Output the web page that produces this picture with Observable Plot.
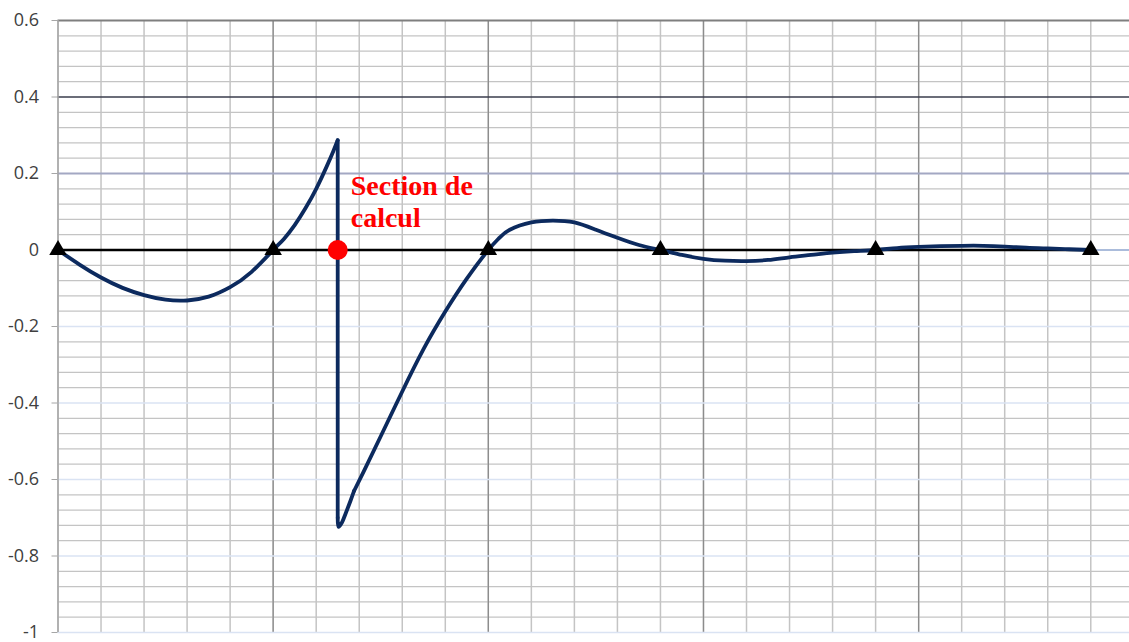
<!DOCTYPE html>
<html>
<head>
<meta charset="utf-8">
<script src="https://cdn.jsdelivr.net/npm/d3@7"></script>
<script src="https://cdn.jsdelivr.net/npm/@observablehq/plot@0.6"></script>
<style>
  html, body { margin: 0; padding: 0; background: #fff; }
  #chart svg { display: block; }
</style>
</head>
<body>
<div id="chart"></div>
<script>
// Influence line (shear) values
const leftX = [0, 0.5, 1, 1.5, 2, 2.5, 3, 3.5, 4, 4.5, 5,
  5.25, 5.5, 5.75, 6, 6.25, 6.4, 6.5];
const leftY = [0, -0.038, -0.072, -0.099, -0.118, -0.13, -0.132, -0.122, -0.097, -0.057, 0,
  0.029, 0.065, 0.109, 0.16, 0.22, 0.259, 0.287];
const hookX = [6.5, 6.52, 6.6, 6.68, 6.8, 6.88];
const hookY = [-0.70, -0.724, -0.712, -0.69, -0.655, -0.63];
const rightX = [6.88, 7.1, 7.5, 8, 8.5, 9, 9.5, 10,
  10.25, 10.5, 11, 11.5, 12, 12.5, 13, 13.5, 14,
  14.5, 15, 15.5, 16, 16.5, 17, 17.5, 18, 18.5, 19,
  19.5, 20, 20.5, 21, 21.5, 22, 22.5, 23, 23.5, 24];
const rightY = [-0.63, -0.58, -0.487, -0.37, -0.258, -0.161, -0.075, 0,
  0.031, 0.053, 0.072, 0.077, 0.072, 0.053, 0.032, 0.013, 0,
  -0.013, -0.023, -0.028, -0.029, -0.026, -0.019, -0.013, -0.007, -0.003, 0,
  0.005, 0.008, 0.010, 0.011, 0.011, 0.009, 0.006, 0.004, 0.002, 0];
const supportsX = [0, 5, 10, 14, 19, 24];
const supportsY = [0, 0, 0, 0, 0, 0];
const sectionX = [6.5];
const sectionY = [0];
const sectionLabel = "Section de\ncalcul";
const yTicks = [-1, -0.8, -0.6, -0.4, -0.2, 0, 0.2, 0.4, 0.6];

const left = leftX.map((x, i) => ({x, y: leftY[i]}));
const jump = [
  {x: leftX[leftX.length - 1], y: leftY[leftY.length - 1]},
  {x: hookX[0], y: hookY[0]}
];
const hook = hookX.map((x, i) => ({x, y: hookY[i]}));
const right = rightX.map((x, i) => ({x, y: rightY[i]}));
const supports = supportsX.map((x, i) => ({x, y: supportsY[i]}));
const section = sectionX.map((x, i) => ({x, y: sectionY[i], label: sectionLabel}));

const xMinor = d3.range(0, 25, 1);
const xMajor = xMinor.filter(v => v % 5 === 0 && v > 0);
const yMinor = d3.range(0, 41).map(i => +(-1 + i * 0.04).toFixed(2)).filter(v => !yTicks.some(t => Math.abs(t - v) < 1e-9));

const curveStyle = {x: "x", y: "y", stroke: "#0C2A5E", strokeWidth: 3.8, strokeLinecap: "round", strokeLinejoin: "round"};

const chart = Plot.plot({
  width: 1129,
  height: 642,
  marginLeft: 57.5,
  marginRight: 0,
  marginTop: 20,
  marginBottom: 10,
  style: {fontFamily: "'Open Sans', sans-serif", background: "#fff"},
  x: {domain: [0, 24.9], axis: null},
  y: {domain: [-1, 0.6], axis: null},
  marks: [
    Plot.ruleY(yMinor, {stroke: "#C4C4C4", strokeWidth: 1.3}),
    Plot.ruleX(xMinor, {stroke: "#C4C4C4", strokeWidth: 1.5}),
    Plot.ruleX(xMajor, {stroke: "#8C8C8C", strokeWidth: 1.3}),
    Plot.ruleY(yTicks.filter(v => v < 0), {stroke: "#DAE3F3", strokeWidth: 1.5}),
    Plot.ruleY([0.2], {stroke: "#A3A8C3", strokeWidth: 2}),
    Plot.ruleY([0.4], {stroke: "#3A3D4C", strokeWidth: 1.5}),
    Plot.ruleY([0.6], {stroke: "#7F7F7F", strokeWidth: 2}),
    Plot.ruleX([0], {stroke: "#A6A6A6", strokeWidth: 1.5}),
    Plot.axisY({ticks: yTicks, tickFormat: d => String(+d.toFixed(1)), tickSize: 6, tickPadding: 13,
      fontSize: 18, stroke: "#A6A6A6", fill: "#404040", label: null}),
    Plot.ruleY([0], {stroke: "#8FA6CF", strokeWidth: 1.5}),
    Plot.lineY(supports, {x: "x", y: "y", stroke: "#000", strokeWidth: 2.5}),
    Plot.line(left, {...curveStyle, curve: "natural"}),
    Plot.line(jump, {...curveStyle, curve: "linear"}),
    Plot.line(hook, {...curveStyle, curve: "catmull-rom"}),
    Plot.line(right, {...curveStyle, curve: "natural"}),
    Plot.dot(supports, {x: "x", y: "y", symbol: "triangle", r: 6.5, fill: "#000", stroke: "none"}),
    Plot.dot(section, {x: "x", y: "y", r: 10, fill: "#FF0000", stroke: "none"}),
    Plot.text(section, {x: "x", y: "y", text: "label", dx: 13, dy: -78, textAnchor: "start", lineAnchor: "top",
      lineHeight: 1.14, fontSize: 28, fontWeight: "bold", fill: "#FF0000",
      fontFamily: "'Liberation Serif', 'Times New Roman', serif"})
  ]
});
document.getElementById("chart").appendChild(chart);
</script>
</body>
</html>
